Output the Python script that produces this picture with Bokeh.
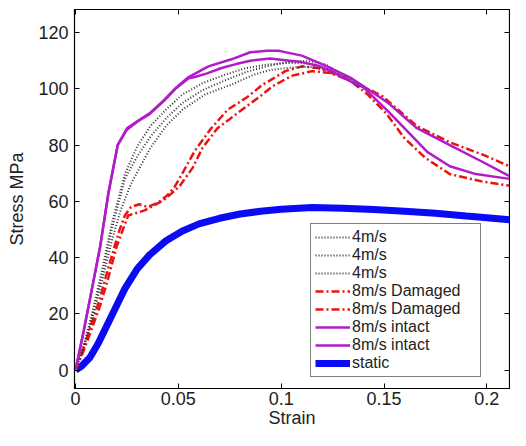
from bokeh.plotting import figure
from bokeh.models import Range1d, FixedTicker, LinearAxis, Legend, LegendItem
from bokeh.embed import file_html
from bokeh.resources import INLINE

# ---------------- data ----------------
x_ticks = [0, 0.05, 0.1, 0.15, 0.2]
x_tick_labels = ["0", "0.05", "0.1", "0.15", "0.2"]
y_ticks = [0, 20, 40, 60, 80, 100, 120]
y_tick_labels = ["0", "20", "40", "60", "80", "100", "120"]

static_x = [0, 0.003, 0.007, 0.011, 0.015, 0.019, 0.024, 0.03, 0.036, 0.044, 0.052, 0.06,
            0.07, 0.08, 0.09, 0.1, 0.115, 0.13, 0.145, 0.16, 0.175, 0.19, 0.2, 0.211]
static_y = [0, 1.5, 4.5, 9.5, 15.5, 21.5, 29, 36, 41, 46, 49.5, 52,
            54, 55.5, 56.5, 57.2, 57.8, 57.6, 57.1, 56.5, 55.8, 54.8, 54.2, 53.5]

intact1_x = [0, 0.004, 0.008, 0.012, 0.016, 0.0205, 0.025, 0.03, 0.036, 0.043, 0.049, 0.055,
             0.0646, 0.0758, 0.085, 0.093, 0.099, 0.11, 0.121, 0.1336, 0.146, 0.152, 0.166,
             0.182, 0.198, 0.211]
intact1_y = [0, 14, 29, 44, 63, 80, 86, 88.5, 91.3, 96, 100.5, 104.2,
             108, 110.5, 113, 113.5, 113.5, 111.8, 108.4, 104, 98, 95, 86,
             80, 74, 69]

intact2_x = [0, 0.004, 0.008, 0.012, 0.016, 0.0205, 0.025, 0.03, 0.036, 0.043, 0.049, 0.055,
             0.058, 0.064, 0.071, 0.078, 0.085, 0.0946, 0.102, 0.11, 0.118, 0.125, 0.13, 0.14,
             0.152, 0.162, 0.171, 0.182, 0.1946, 0.211]
intact2_y = [0, 14, 29, 44, 63, 80, 85.5, 88.3, 91, 95.7, 100.3, 103.8,
             104.2, 105.5, 107.4, 108.8, 110, 110.8, 110.2, 109.5, 108.2, 106, 104, 100.5,
             92, 84.4, 77.6, 72.5, 69.7, 68]

damaged1_x = [0, 0.004, 0.008, 0.0115, 0.016, 0.021, 0.024, 0.027, 0.031, 0.035, 0.04, 0.0444,
              0.048, 0.052, 0.058, 0.066, 0.074, 0.0834, 0.091, 0.0946, 0.102, 0.11, 0.118,
              0.127, 0.138, 0.149, 0.166, 0.182, 0.198, 0.211]
damaged1_y = [0, 8, 17, 24.5, 36.6, 49, 55, 58, 59, 58, 59.5, 62,
              65, 70, 78, 86, 92.6, 97, 101.5, 103, 106.3, 108, 107.4,
              105, 101.5, 97.5, 86.8, 81, 76.6, 72.5]

damaged2_x = [0, 0.004, 0.008, 0.012, 0.016, 0.02, 0.0256, 0.0336, 0.043, 0.0505, 0.057, 0.0617,
              0.069, 0.079, 0.09, 0.096, 0.105, 0.115, 0.124, 0.1336, 0.142, 0.151, 0.16,
              0.17, 0.182, 0.198, 0.211]
damaged2_y = [0, 7, 15, 23, 33, 44, 55, 56.8, 60.5, 65.3, 72, 79,
              86, 91.5, 97.5, 101, 104.6, 106.3, 105.6, 103, 98, 91.3, 82.4,
              75.5, 69.7, 67, 65.6]

v4a_x = [0, 0.004, 0.008, 0.013, 0.0176, 0.024, 0.03, 0.0364, 0.044, 0.052, 0.0617, 0.0726,
         0.083, 0.093, 0.103, 0.113, 0.122, 0.13, 0.138]
v4a_y = [0, 9, 20, 36, 52, 69.7, 79.5, 86.8, 92.6, 98, 102, 105,
         107.4, 108.6, 109.2, 109, 107.5, 104.5, 100.5]

v4b_x = [0, 0.004, 0.008, 0.013, 0.0176, 0.024, 0.03, 0.0364, 0.044, 0.052, 0.0617, 0.0726,
         0.083, 0.093, 0.103, 0.113, 0.122, 0.13, 0.138]
v4b_y = [0, 8.5, 19, 34, 50, 68, 76, 83, 89.5, 95, 99.5, 103,
         106, 108, 109.5, 110, 108.5, 105, 100.5]

v4c_x = [0, 0.004, 0.008, 0.013, 0.018, 0.022, 0.027, 0.0364, 0.044, 0.052, 0.063, 0.0758,
         0.0866, 0.0946, 0.105, 0.115, 0.124, 0.132, 0.138]
v4c_y = [0, 8, 18, 32, 47, 57, 66.3, 79, 86.8, 92.6, 98, 101.5,
         105, 106.7, 107.6, 107.8, 106.5, 103.5, 100.5]

labels = ["4m/s", "4m/s", "4m/s", "8m/s Damaged", "8m/s Damaged",
          "8m/s intact", "8m/s intact", "static"]

# ---------------- figure ----------------
FONT = "Liberation Sans"
p = figure(width=510, height=430, output_backend="svg", toolbar_location=None,
           x_range=Range1d(-0.0005, 0.211), y_range=Range1d(-6.5, 128.2),
           min_border_left=74, min_border_right=1, min_border_top=9, min_border_bottom=38)
p.xgrid.visible = False
p.ygrid.visible = False
p.outline_line_color = "black"
p.outline_line_width = 1.2
p.background_fill_color = "white"
p.border_fill_color = "white"

for ax in (p.xaxis[0], p.yaxis[0]):
    ax.major_tick_in = 5
    ax.major_tick_out = 0
    ax.minor_tick_line_color = None
    ax.axis_line_color = "black"
    ax.major_label_text_font = FONT
    ax.major_label_text_font_size = "18px"
    ax.major_label_text_color = "#222222"
    ax.axis_label_text_font = FONT
    ax.axis_label_text_font_size = "18px"
    ax.axis_label_text_font_style = "normal"
    ax.axis_label_text_color = "#222222"

p.xaxis.ticker = FixedTicker(ticks=x_ticks)
p.xaxis.major_label_overrides = {t: l for t, l in zip(x_ticks, x_tick_labels)}
p.yaxis.ticker = FixedTicker(ticks=y_ticks)
p.yaxis.major_label_overrides = {t: l for t, l in zip(y_ticks, y_tick_labels)}
p.xaxis.axis_label = "Strain"
p.yaxis.axis_label = "Stress MPa"
p.xaxis.major_label_standoff = 3
p.xaxis.axis_label_standoff = 0
p.yaxis.major_label_standoff = 6
p.yaxis.axis_label_standoff = 8

# box ticks on top and right (minor ticks only, no labels)
top_ax = LinearAxis(ticker=FixedTicker(ticks=[], minor_ticks=x_ticks),
                    minor_tick_in=5, minor_tick_out=0, major_tick_in=0, major_tick_out=0,
                    minor_tick_line_color="black", axis_line_color="black")
right_ax = LinearAxis(ticker=FixedTicker(ticks=[], minor_ticks=y_ticks),
                      minor_tick_in=5, minor_tick_out=0, major_tick_in=0, major_tick_out=0,
                      minor_tick_line_color="black", axis_line_color="black")
p.add_layout(top_ax, "above")
p.add_layout(right_ax, "right")

DOT = "#333333"
RED = "#ee1111"
MAG = "#b01cc8"
BLUE = "#0a0af5"

r_static = p.line(static_x, static_y, line_color=BLUE, line_width=7)
r_d1 = p.line(damaged1_x, damaged1_y, line_color=RED, line_width=2.5, line_dash="8 3 2 3")
r_d2 = p.line(damaged2_x, damaged2_y, line_color=RED, line_width=2.5, line_dash="8 3 2 3")
r_v1 = p.line(v4a_x, v4a_y, line_color=DOT, line_width=2, line_dash="1 2")
r_v2 = p.line(v4b_x, v4b_y, line_color=DOT, line_width=2, line_dash="1 2")
r_v3 = p.line(v4c_x, v4c_y, line_color=DOT, line_width=2, line_dash="1 2")
r_i1 = p.line(intact1_x, intact1_y, line_color=MAG, line_width=2.5)
r_i2 = p.line(intact2_x, intact2_y, line_color=MAG, line_width=2.5)

renderers = [r_v1, r_v2, r_v3, r_d1, r_d2, r_i1, r_i2, r_static]
legend = Legend(items=[LegendItem(label=l, renderers=[r]) for l, r in zip(labels, renderers)],
                location=(236, 11), orientation="vertical",
                label_text_font=FONT, label_text_font_size="16px", label_text_color="#222222",
                label_height=18, glyph_height=18, glyph_width=35, label_standoff=2,
                label_width=124, spacing=0, padding=4, margin=0,
                border_line_color="black", border_line_width=1.2,
                background_fill_color="white", background_fill_alpha=1)
p.add_layout(legend, "center")

open("out.html", "w").write(file_html(p, INLINE))
